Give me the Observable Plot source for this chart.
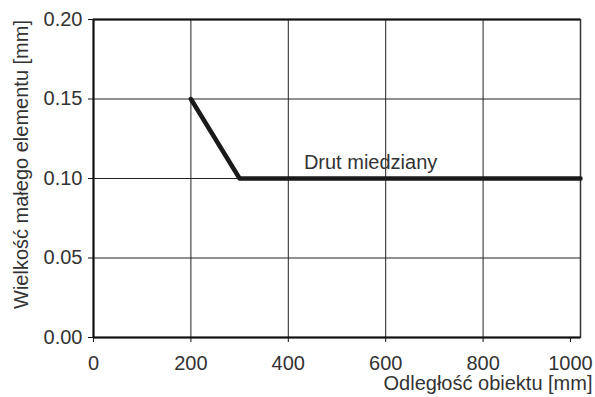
<!DOCTYPE html>
<html>
<head>
<meta charset="utf-8">
<script src="https://cdn.jsdelivr.net/npm/d3@7"></script>
<script src="https://cdn.jsdelivr.net/npm/@observablehq/plot@0.6"></script>
<style>
  html, body { margin: 0; padding: 0; background: #fff; }
  svg { font-family: "Liberation Sans", Arial, sans-serif; }
</style>
</head>
<body>
<div id="chart"></div>
<script>
const distance = [200, 300, 1000];
const size = [0.15, 0.10, 0.10];
const xTicks = [0, 200, 400, 600, 800, 1000];
const yTicks = [0.00, 0.05, 0.10, 0.15, 0.20];
const seriesLabel = "Drut miedziany";
const labelPos = {x: 432, y: 0.1097};
const xLabel = "Odległość obiektu [mm]";
const yLabel = "Wielkość małego elementu [mm]";

const data = distance.map((d, i) => ({x: d, y: size[i]}));
const fs = 20;

const chart = Plot.plot({
  width: 595,
  height: 397,
  marginLeft: 93,
  marginRight: 15,
  marginTop: 19,
  marginBottom: 60,
  style: {fontSize: fs + "px", color: "#333", fontFamily: "'Liberation Sans', Arial, sans-serif"},
  x: {domain: [0, 1000], ticks: xTicks},
  y: {domain: [0, 0.2], ticks: yTicks},
  marks: [
    Plot.gridX(xTicks, {stroke: "#222", strokeOpacity: 1, strokeWidth: 1}),
    Plot.gridY(yTicks, {stroke: "#222", strokeOpacity: 1, strokeWidth: 1}),
    Plot.frame({stroke: "#333", strokeWidth: 1.5}),
    Plot.ruleY([0.2], {stroke: "#111", strokeWidth: 2}),
    Plot.ruleX([0], {stroke: "#111", strokeWidth: 2}),
    Plot.ruleY([0], {stroke: "#111", strokeWidth: 2}),
    Plot.axisX(xTicks.slice(0, -1), {tickSize: 5, tickPadding: 13, stroke: "#111", fill: "#333", fontSize: fs, label: null, tickFormat: d3.format("d")}),
    Plot.axisX(xTicks.slice(-1), {tickSize: 5, tickPadding: 13, stroke: "#111", fill: "#333", fontSize: fs, label: null, tickFormat: d3.format("d"), dx: -10}),
    Plot.axisY({ticks: yTicks, tickSize: 5, tickPadding: 6, stroke: "#111", fill: "#333", fontSize: fs, label: null, tickFormat: d3.format(".2f")}),
    Plot.line(data, {x: "x", y: "y", stroke: "#1a1a1a", strokeWidth: 4.5}),
    Plot.text([labelPos], {x: "x", y: "y", text: () => seriesLabel, fill: "#333", fontSize: fs, textAnchor: "start"}),
    Plot.text([xLabel], {frameAnchor: "bottom-right", text: d => d, textAnchor: "end", dx: 12, dy: 52.6, fill: "#333", fontSize: fs}),
    Plot.text([yLabel], {frameAnchor: "left", text: d => d, textAnchor: "middle", rotate: -90, dx: -72.4, dy: -14, fill: "#333", fontSize: fs})
  ]
});
document.getElementById("chart").appendChild(chart);
</script>
</body>
</html>
